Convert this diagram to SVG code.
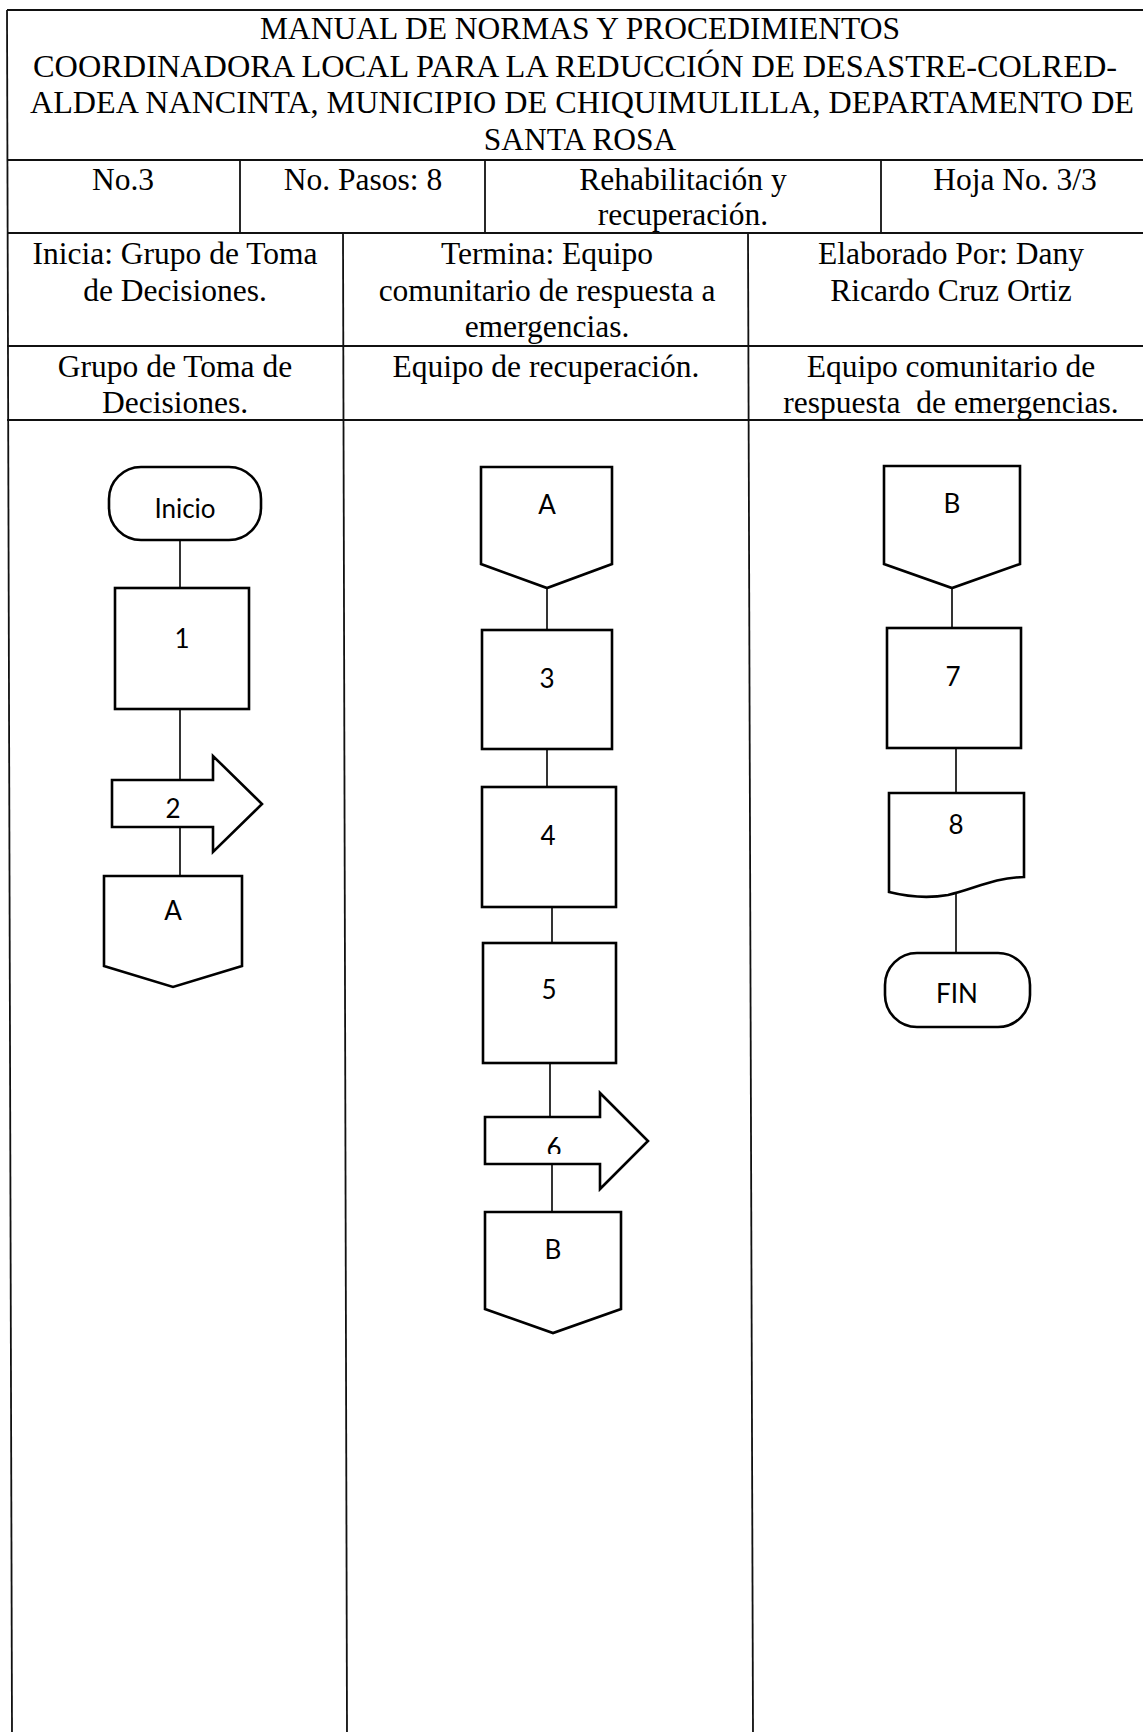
<svg xmlns="http://www.w3.org/2000/svg" width="1143" height="1732" viewBox="0 0 1143 1732">
<style>
.t{font-family:"Liberation Serif","Times New Roman",serif;font-size:31.5px;fill:#000;text-anchor:middle}
.f{font-family:Lato,"Open Sans",sans-serif;font-size:26px;fill:#000;text-anchor:middle}
.grid{stroke:#111;stroke-width:1.8;fill:none}
.shape{fill:#fff;stroke:#000;stroke-width:2.6;stroke-linejoin:miter}
.conn{stroke:#000;stroke-width:1.6;fill:none}
</style>
<defs>
<clipPath id="clip6"><rect x="480" y="1100" width="130" height="54"/></clipPath>
</defs>
<rect x="0" y="0" width="1143" height="1732" fill="#fff"/>
<g id="table">
<line class="grid" x1="7" y1="10" x2="1143" y2="10"/>
<line class="grid" x1="7" y1="10" x2="12" y2="1732"/>
<line class="grid" x1="7" y1="160" x2="1143" y2="160"/>
<line class="grid" x1="7" y1="233" x2="1143" y2="233"/>
<line class="grid" x1="7" y1="346" x2="1143" y2="346"/>
<line class="grid" x1="7" y1="420" x2="1143" y2="420"/>
<line class="grid" x1="240" y1="160" x2="240" y2="233"/>
<line class="grid" x1="485" y1="160" x2="485" y2="233"/>
<line class="grid" x1="881" y1="160" x2="881" y2="233"/>
<line class="grid" x1="343" y1="233" x2="347" y2="1732"/>
<line class="grid" x1="748" y1="233" x2="753" y2="1732"/>
</g>
<g id="header-text">
<text class="t" x="580" y="39">MANUAL DE NORMAS Y PROCEDIMIENTOS</text>
<text class="t" x="575" y="77" textLength="1084" lengthAdjust="spacingAndGlyphs">COORDINADORA LOCAL PARA LA REDUCCIÓN DE DESASTRE-COLRED-</text>
<text class="t" x="582" y="113" textLength="1104" lengthAdjust="spacingAndGlyphs">ALDEA NANCINTA, MUNICIPIO DE CHIQUIMULILLA, DEPARTAMENTO DE</text>
<text class="t" x="580" y="150">SANTA ROSA</text>
<text class="t" x="123" y="190">No.3</text>
<text class="t" x="363" y="190">No. Pasos: 8</text>
<text class="t" x="683" y="190">Rehabilitación y</text>
<text class="t" x="683" y="225">recuperación.</text>
<text class="t" x="1015" y="190">Hoja No. 3/3</text>
<text class="t" x="175" y="264">Inicia: Grupo de Toma</text>
<text class="t" x="175" y="301">de Decisiones.</text>
<text class="t" x="547" y="264">Termina: Equipo</text>
<text class="t" x="547" y="301">comunitario de respuesta a</text>
<text class="t" x="547" y="337">emergencias.</text>
<text class="t" x="951" y="264">Elaborado Por: Dany</text>
<text class="t" x="951" y="301">Ricardo Cruz Ortiz</text>
<text class="t" x="175" y="377">Grupo de Toma de</text>
<text class="t" x="175" y="413">Decisiones.</text>
<text class="t" x="546" y="377">Equipo de recuperación.</text>
<text class="t" x="951" y="377">Equipo comunitario de</text>
<text class="t" x="951" y="413" xml:space="preserve">respuesta  de emergencias.</text>
</g>
<g id="connectors">
<line class="conn" x1="180" y1="540" x2="180" y2="588"/>
<line class="conn" x1="180" y1="709" x2="180" y2="780"/>
<line class="conn" x1="180" y1="827" x2="180" y2="876"/>
<line class="conn" x1="547" y1="588" x2="547" y2="630"/>
<line class="conn" x1="547" y1="749" x2="547" y2="787"/>
<line class="conn" x1="552" y1="907" x2="552" y2="943"/>
<line class="conn" x1="550" y1="1063" x2="550" y2="1117"/>
<line class="conn" x1="552" y1="1164" x2="552" y2="1212"/>
<line class="conn" x1="952" y1="588" x2="952" y2="628"/>
<line class="conn" x1="956" y1="748" x2="956" y2="793"/>
<line class="conn" x1="956" y1="894" x2="956" y2="953"/>
</g>
<g id="n-inicio"><rect class="shape" x="109" y="467" width="152" height="73" rx="32" ry="32"/><text class="f" x="185" y="518">Inicio</text></g>
<g id="n-1"><rect class="shape" x="115" y="588" width="134" height="121"/><text class="f" x="182" y="648">1</text></g>
<g id="n-2"><polygon class="shape" points="112,780 213,780 213,756 262,804 213,852 213,827 112,827"/><text class="f" x="173" y="818">2</text></g>
<g id="n-A1"><polygon class="shape" points="104,876 242,876 242,966 173,987 104,966"/><text class="f" x="173" y="920">A</text></g>
<g id="n-A2"><polygon class="shape" points="481,467 612,467 612,564 547,588 481,564"/><text class="f" x="547" y="514">A</text></g>
<g id="n-3"><rect class="shape" x="482" y="630" width="130" height="119"/><text class="f" x="547" y="688">3</text></g>
<g id="n-4"><rect class="shape" x="482" y="787" width="134" height="120"/><text class="f" x="548" y="845">4</text></g>
<g id="n-5"><rect class="shape" x="483" y="943" width="133" height="120"/><text class="f" x="549" y="999">5</text></g>
<g id="n-6"><polygon class="shape" points="485,1117 600,1117 600,1093 648,1141 600,1189 600,1164 485,1164"/><text class="f" x="554" y="1157" clip-path="url(#clip6)">6</text></g>
<g id="n-B2"><polygon class="shape" points="485,1212 621,1212 621,1309 553,1333 485,1309"/><text class="f" x="553" y="1259">B</text></g>
<g id="n-B3"><polygon class="shape" points="884,466 1020,466 1020,564 952,588 884,564"/><text class="f" x="952" y="513">B</text></g>
<g id="n-7"><rect class="shape" x="887" y="628" width="134" height="120"/><text class="f" x="953" y="686">7</text></g>
<g id="n-8"><path class="shape" d="M889,793 H1024 V877 C992,878 975,889 948,895 C925,899 905,896 889,892 Z"/><text class="f" x="956" y="834">8</text></g>
<g id="n-fin"><rect class="shape" x="885" y="953" width="145" height="74" rx="32" ry="32"/><text class="f" x="957" y="1003">FIN</text></g>
</svg>
